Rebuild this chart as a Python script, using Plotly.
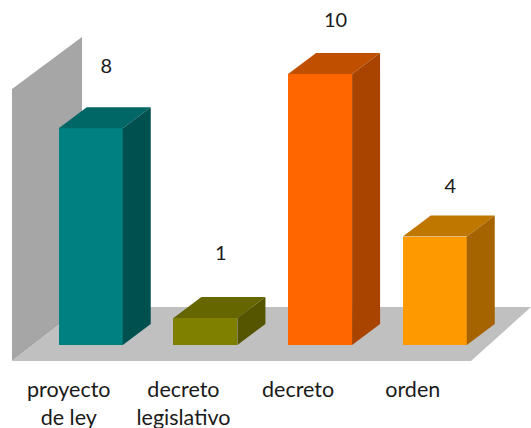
import plotly.graph_objects as go

categories = ["proyecto<br>de ley", "decreto<br>legislativo", "decreto", "orden"]
values = [8, 1, 10, 4]

front_colors = ["#008080", "#808000", "#FF6600", "#FF9900"]
top_colors = ["#006666", "#666600", "#C04F00", "#C07700"]
side_colors = ["#005050", "#555500", "#A84400", "#A66400"]
WALL = "#A6A6A6"
FLOOR = "#C0C0C0"
TEXT = "#1A1A1A"
FONT = "Lato"

W, H = 531, 428
FLOOR_FRONT_PX = 361
BASE_PX = 345
UNIT_PX = 27.1
STEP_PX = 114.67
FIRST_PX = 90.75
BAR_W = 64 / STEP_PX
DX = 28 / STEP_PX
DY = 21 / UNIT_PX
label_dx = 15.5 / STEP_PX
tick_dx = 22 / STEP_PX
label_lift = [60, 63, 52, 49]


def X(px):
    return (px - FIRST_PX) / STEP_PX


def Y(px):
    return (BASE_PX - px) / UNIT_PX


positions = list(range(len(values)))
fig = go.Figure()

fig.add_trace(go.Bar(x=positions, y=values, width=BAR_W, marker=dict(color=front_colors, line_width=0),
                     hoverinfo="skip", showlegend=False))

for i, v in zip(positions, values):
    l, r = i - BAR_W / 2, i + BAR_W / 2
    fig.add_trace(go.Scatter(x=[l, r, r + DX, l + DX, l], y=[v, v, v + DY, v + DY, v], mode="lines",
                             fill="toself", fillcolor=top_colors[i], line=dict(width=0),
                             hoverinfo="skip", showlegend=False))
    fig.add_trace(go.Scatter(x=[r, r + DX, r + DX, r, r], y=[0, DY, v + DY, v, 0], mode="lines",
                             fill="toself", fillcolor=side_colors[i], line=dict(width=0),
                             hoverinfo="skip", showlegend=False))

fig.add_trace(go.Scatter(x=[i + label_dx for i in positions],
                         y=[v + lift / UNIT_PX for v, lift in zip(values, label_lift)],
                         text=[str(v) for v in values], mode="text", textposition="middle center",
                         textfont=dict(family=FONT, size=20, color=TEXT), hoverinfo="skip", showlegend=False))


def poly(points):
    return "M" + " L".join(f"{X(a)},{Y(b)}" for a, b in points) + " Z"


fig.add_shape(type="path", layer="below", line_width=0, fillcolor=WALL,
              path=poly([(12, FLOOR_FRONT_PX), (12, 89), (82, 37), (82, 307)]))
fig.add_shape(type="path", layer="below", line_width=0, fillcolor=FLOOR,
              path=poly([(12, FLOOR_FRONT_PX), (82, 307), (531, 307), (471, FLOOR_FRONT_PX)]))

fig.update_layout(
    width=W, height=H, autosize=False,
    margin=dict(l=0, r=0, t=0, b=H - FLOOR_FRONT_PX),
    paper_bgcolor="white", plot_bgcolor="white", bargap=0,
    xaxis=dict(range=[X(0), X(W)], tickmode="array",
               tickvals=[p - tick_dx for p in positions], ticktext=categories,
               showgrid=False, zeroline=False, showline=False, ticks="outside", ticklen=9,
               tickcolor="rgba(0,0,0,0)", automargin=False,
               tickfont=dict(family=FONT, size=21.5, color=TEXT)),
    yaxis=dict(range=[Y(FLOOR_FRONT_PX), Y(0)], visible=False),
)
fig.write_html("out.html", config=dict(displayModeBar=False),
               post_script="document.body.style.margin='0';")
